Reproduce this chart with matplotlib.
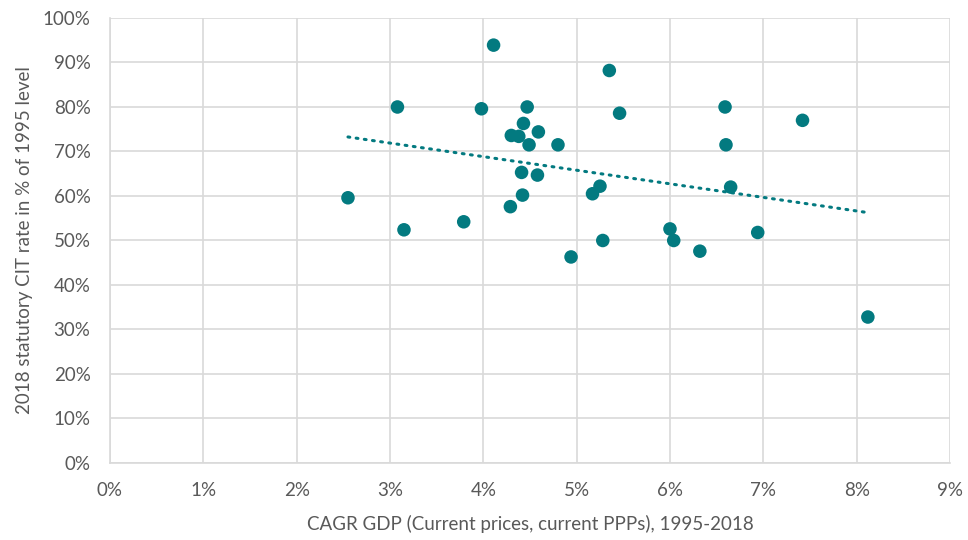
import numpy as np
import matplotlib
matplotlib.use("Agg")
import matplotlib.pyplot as plt
from matplotlib.ticker import PercentFormatter

# CAGR GDP (%), 1995-2018
cagr_gdp = [2.55, 3.08, 3.15, 3.79, 3.98, 4.11, 4.29, 4.30, 4.38, 4.41, 4.42,
            4.43, 4.47, 4.49, 4.58, 4.59, 4.80, 4.94, 5.17, 5.25, 5.28, 5.35,
            5.46, 6.00, 6.04, 6.32, 6.59, 6.60, 6.65, 6.94, 7.42, 8.12]
# 2018 statutory CIT rate in % of 1995 level
cit_ratio = [59.6, 80.0, 52.4, 54.2, 79.6, 93.9, 57.6, 73.6, 73.4, 65.3, 60.2,
             76.3, 80.0, 71.5, 64.7, 74.4, 71.5, 46.3, 60.5, 62.2, 50.0, 88.2,
             78.6, 52.6, 50.0, 47.6, 80.0, 71.5, 62.0, 51.8, 77.0, 32.8]

teal = '#037a80'
grey_txt = '#595959'
grid_col = '#d9d9d9'

plt.rcParams['font.family'] = ['Lato', 'DejaVu Sans']

fig = plt.figure(figsize=(9.68, 5.4), dpi=100)
ax = fig.add_axes([0.1136, 0.1426, 0.8678, 0.8241])

x = np.array(cagr_gdp)
y = np.array(cit_ratio)

# linear trendline like excel
slope, intercept = np.polyfit(x, y, 1)
xt = np.array([x.min(), x.max()])
ax.plot(xt, slope * xt + intercept, color=teal, lw=2.2,
        linestyle=(0, (0.6, 2.1)), dash_capstyle='round', zorder=3)

ax.scatter(x, y, s=95, color=teal, edgecolors='none', zorder=4)

ax.set_xlim(0, 9)
ax.set_ylim(0, 100)
ax.set_xticks(np.arange(0, 10, 1))
ax.set_yticks(np.arange(0, 101, 10))
ax.xaxis.set_major_formatter(PercentFormatter(decimals=0))
ax.yaxis.set_major_formatter(PercentFormatter(decimals=0))

ax.grid(True, color=grid_col, lw=1.2)
ax.set_axisbelow(True)
for s in ax.spines.values():
    s.set_visible(False)
ax.spines['left'].set_visible(True)
ax.spines['bottom'].set_visible(True)
ax.spines['left'].set_color(grid_col)
ax.spines['bottom'].set_color(grid_col)
ax.spines['left'].set_linewidth(1.2)
ax.spines['bottom'].set_linewidth(1.2)

ax.tick_params(length=0, labelsize=13.5, colors=grey_txt)
ax.tick_params(axis='x', pad=14)
ax.tick_params(axis='y', pad=14)
ax.set_xlabel('CAGR GDP (Current prices, current PPPs), 1995-2018',
              fontsize=13.5, color=grey_txt, labelpad=11)
ax.set_ylabel('2018 statutory CIT rate in % of 1995 level',
              fontsize=13.5, color=grey_txt, labelpad=7)

fig.savefig('out.png', dpi=100)
